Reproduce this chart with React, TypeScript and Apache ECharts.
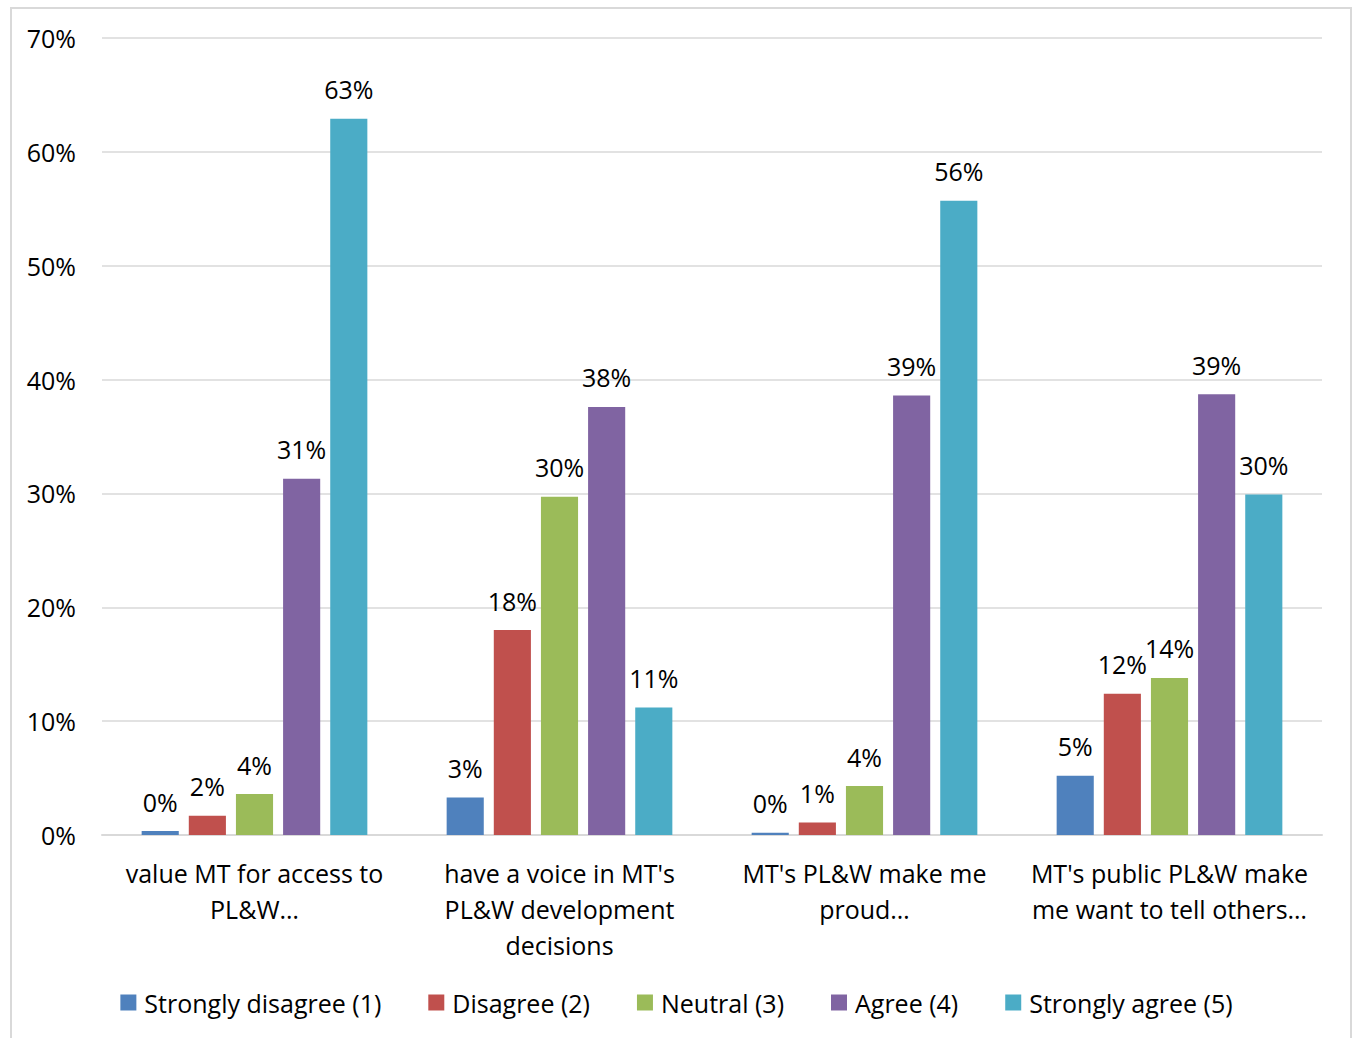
import React, { useEffect, useRef } from "react";
import * as echarts from "echarts";

const categories = [
  "value MT for access to\nPL&W…",
  "have a voice in MT's\nPL&W development\ndecisions",
  "MT's PL&W make me\nproud…",
  "MT's public PL&W make\nme want to tell others…",
];
const seriesNames = [
  "Strongly disagree (1)",
  "Disagree (2)",
  "Neutral (3)",
  "Agree (4)",
  "Strongly agree (5)",
];
const stronglyDisagree = [0.35, 3.3, 0.2, 5.2];
const disagree = [1.7, 18.0, 1.1, 12.4];
const neutral = [3.6, 29.7, 4.3, 13.8];
const agree = [31.3, 37.6, 38.6, 38.7];
const stronglyAgree = [62.9, 11.2, 55.7, 29.9];
const colors = ["#4f81bd", "#c0504d", "#9bbb59", "#8064a2", "#4bacc6"];
const yTicks = [0, 10, 20, 30, 40, 50, 60, 70];

export default function App() {
  const ref = useRef<HTMLDivElement>(null);
  useEffect(() => {
    if (!ref.current) return;
    const chart = echarts.init(ref.current, undefined, { renderer: "svg" });
    const values = [stronglyDisagree, disagree, neutral, agree, stronglyAgree];
    const font = "'Open Sans', 'Noto Sans', sans-serif";
    const fs = 25;
    chart.setOption({
      animation: false,
      color: colors,
      textStyle: { fontFamily: font },
      graphic: [
        {
          type: "rect",
          shape: { x: 11, y: 8, width: 1340, height: 1040 },
          style: { fill: "none", stroke: "#d9d9d9", lineWidth: 2 },
          silent: true,
        },
      ],
      grid: { left: 102, right: 31, top: 38, bottom: 203 },
      legend: {
        bottom: 18,
        left: "center",
        itemWidth: 16,
        itemHeight: 16,
        itemGap: 47,
        icon: "rect",
        textStyle: { fontSize: fs, color: "#000", fontFamily: font, padding: [0, 0, 0, 3] },
        data: seriesNames,
      },
      xAxis: {
        type: "category",
        data: categories,
        axisTick: { show: false },
        axisLine: { lineStyle: { color: "#d9d9d9", width: 2 } },
        axisLabel: {
          color: "#000",
          fontSize: fs,
          lineHeight: 36,
          margin: 20,
          interval: 0,
          fontFamily: font,
        },
      },
      yAxis: {
        type: "value",
        min: 0,
        max: 70,
        interval: 10,
        axisLine: { show: false },
        axisTick: { show: false },
        splitLine: { lineStyle: { color: "#d9d9d9", width: 1.5 } },
        axisLabel: {
          color: "#000",
          fontSize: fs,
          margin: 26,
          fontFamily: font,
          formatter: (v: number) => (yTicks.includes(v) ? v + "%" : ""),
        },
      },
      series: seriesNames.map((name, i) => ({
        name,
        type: "bar",
        data: values[i],
        barGap: "27%",
        barCategoryGap: "26%",
        itemStyle: { color: colors[i] },
        label: {
          show: true,
          position: "top",
          distance: 17,
          color: "#000",
          fontSize: fs,
          fontFamily: font,
          formatter: (p: any) => Math.round(p.value) + "%",
        },
      })),
    });
    return () => chart.dispose();
  }, []);
  return (
    <div
      ref={ref}
      style={{ position: "fixed", left: 0, top: 0, width: 1353, height: 1038, background: "#fff" }}
    />
  );
}
